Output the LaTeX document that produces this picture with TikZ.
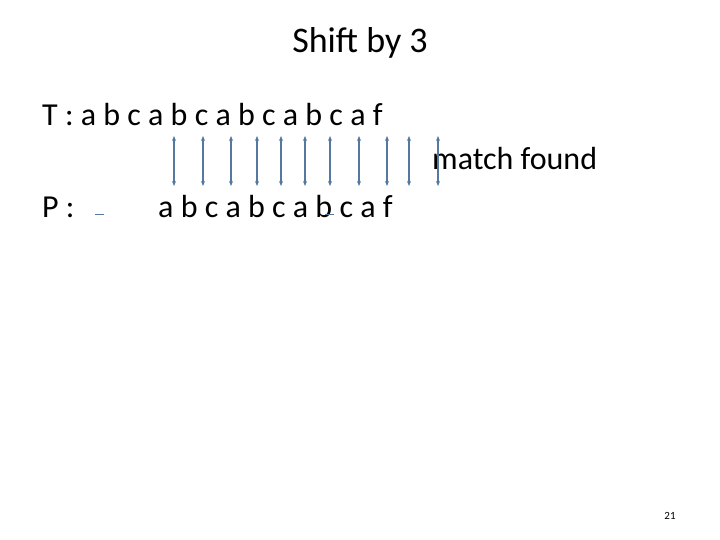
\documentclass[tikz,border=0pt]{standalone}
\usepackage{fontspec}
\usetikzlibrary{arrows.meta}
\setmainfont{Carlito}
\definecolor{arrc}{RGB}{84,120,160}
\begin{document}
\begin{tikzpicture}[x=1pt,y=-1pt,
 arr/.style={<->,>={Stealth[length=5pt,width=4pt]},draw=arrc,line width=1.3pt},
 txt/.style={inner sep=0,anchor=base west,font=\fontsize{32}{36}\selectfont}]
\useasboundingbox (0,0) rectangle (720,540);
\node[anchor=base,inner sep=0,font=\fontsize{36}{40}\selectfont] (title) at (360,53) {Shift by 3};
\node[txt] (T) at (42,126) {T : a b c a b c a b c a b c a f};
\node[txt] (P) at (42,218) {P :};
\node[txt] (Ps) at (158,218) {a b c a b c a b c a f};
\node[txt] (m) at (432,170) {match found};
\foreach \x [count=\i] in {174,203,231,257,281,305,330,359,387,409,438}{
 \coordinate (u\i) at (\x,136); \coordinate (d\i) at (\x,186);
 \draw[arr] (u\i) -- (d\i);}
\coordinate (a1) at (95,215); \coordinate (a2) at (104,215);
\draw[arrc,line width=1pt] (a1) -- (a2);
\coordinate (b1) at (325,215); \coordinate (b2) at (334,215);
\draw[arrc,line width=1pt] (b1) -- (b2);
\node[anchor=base,inner sep=0,font=\fontsize{11}{13}\selectfont] (pg) at (670,519) {21};
\end{tikzpicture}
\end{document}
